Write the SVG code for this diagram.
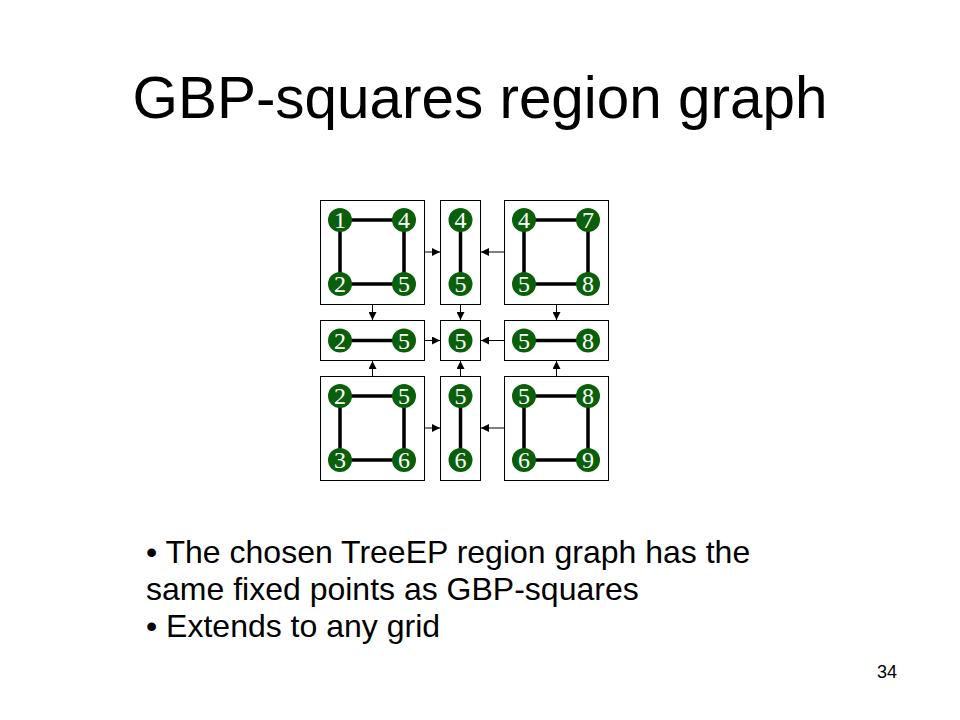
<svg xmlns="http://www.w3.org/2000/svg" width="960" height="720" viewBox="0 0 960 720">
<style>
.box{fill:#fff;stroke:#000;stroke-width:1}
.edge{stroke:#000;stroke-width:3.5}
.v circle{fill:#0a600a}
.v text{fill:#fff;font-family:"Liberation Serif","Times New Roman",serif;font-size:24px;text-anchor:middle}
.con line{stroke:#000;stroke-width:1}
.t{font-family:"Liberation Sans",Arial,sans-serif;fill:#000}
</style>
<defs>
<marker id="ah" markerWidth="8" markerHeight="8" refX="8" refY="4" orient="auto" markerUnits="userSpaceOnUse">
<path d="M0,0 L8,4 L0,8 Z" fill="#000"/>
</marker>
</defs>
<rect width="960" height="720" fill="#fff"/>
<text class="t" x="480" y="118" font-size="60" text-anchor="middle" textLength="695" lengthAdjust="spacingAndGlyphs">GBP-squares region graph</text>

<g id="connectors" class="con">
<line x1="424.5" y1="252" x2="440" y2="252" marker-end="url(#ah)"/>
<line x1="504.5" y1="252" x2="481" y2="252" marker-end="url(#ah)"/>
<line x1="424.5" y1="340.5" x2="440" y2="340.5" marker-end="url(#ah)"/>
<line x1="504.5" y1="340.5" x2="481" y2="340.5" marker-end="url(#ah)"/>
<line x1="424.5" y1="428" x2="440" y2="428" marker-end="url(#ah)"/>
<line x1="504.5" y1="428" x2="481" y2="428" marker-end="url(#ah)"/>
<line x1="372.5" y1="304.5" x2="372.5" y2="320" marker-end="url(#ah)"/>
<line x1="460.5" y1="304.5" x2="460.5" y2="320" marker-end="url(#ah)"/>
<line x1="556.5" y1="304.5" x2="556.5" y2="320" marker-end="url(#ah)"/>
<line x1="372.5" y1="376.5" x2="372.5" y2="361" marker-end="url(#ah)"/>
<line x1="460.5" y1="376.5" x2="460.5" y2="361" marker-end="url(#ah)"/>
<line x1="556.5" y1="376.5" x2="556.5" y2="361" marker-end="url(#ah)"/>
</g>

<g id="r1245">
<rect class="box" x="320.5" y="200.5" width="104" height="104"/>
<path class="edge" d="M340,220H404V284H340Z" fill="none"/>
<g class="v">
<circle cx="340" cy="220" r="12"/><text x="340" y="228">1</text>
<circle cx="404" cy="220" r="12"/><text x="404" y="228">4</text>
<circle cx="340" cy="284" r="12"/><text x="340" y="292">2</text>
<circle cx="404" cy="284" r="12"/><text x="404" y="292">5</text>
</g>
</g>
<g id="r45">
<rect class="box" x="440.5" y="200.5" width="40" height="104"/>
<path class="edge" d="M460.5,220V284"/>
<g class="v">
<circle cx="460.5" cy="220" r="12"/><text x="460.5" y="228">4</text>
<circle cx="460.5" cy="284" r="12"/><text x="460.5" y="292">5</text>
</g>
</g>
<g id="r4578">
<rect class="box" x="504.5" y="200.5" width="104" height="104"/>
<path class="edge" d="M524,220H588V284H524Z" fill="none"/>
<g class="v">
<circle cx="524" cy="220" r="12"/><text x="524" y="228">4</text>
<circle cx="588" cy="220" r="12"/><text x="588" y="228">7</text>
<circle cx="524" cy="284" r="12"/><text x="524" y="292">5</text>
<circle cx="588" cy="284" r="12"/><text x="588" y="292">8</text>
</g>
</g>

<g id="r25">
<rect class="box" x="320.5" y="320.5" width="104" height="40"/>
<path class="edge" d="M340,340.5H404"/>
<g class="v">
<circle cx="340" cy="340.5" r="12"/><text x="340" y="348.5">2</text>
<circle cx="404" cy="340.5" r="12"/><text x="404" y="348.5">5</text>
</g>
</g>
<g id="r5">
<rect class="box" x="440.5" y="320.5" width="40" height="40"/>
<g class="v">
<circle cx="460.5" cy="340.5" r="12"/><text x="460.5" y="348.5">5</text>
</g>
</g>
<g id="r58">
<rect class="box" x="504.5" y="320.5" width="104" height="40"/>
<path class="edge" d="M524,340.5H588"/>
<g class="v">
<circle cx="524" cy="340.5" r="12"/><text x="524" y="348.5">5</text>
<circle cx="588" cy="340.5" r="12"/><text x="588" y="348.5">8</text>
</g>
</g>

<g id="r2356">
<rect class="box" x="320.5" y="376.5" width="104" height="104"/>
<path class="edge" d="M340,396H404V460H340Z" fill="none"/>
<g class="v">
<circle cx="340" cy="396" r="12"/><text x="340" y="404">2</text>
<circle cx="404" cy="396" r="12"/><text x="404" y="404">5</text>
<circle cx="340" cy="460" r="12"/><text x="340" y="468">3</text>
<circle cx="404" cy="460" r="12"/><text x="404" y="468">6</text>
</g>
</g>
<g id="r56">
<rect class="box" x="440.5" y="376.5" width="40" height="104"/>
<path class="edge" d="M460.5,396V460"/>
<g class="v">
<circle cx="460.5" cy="396" r="12"/><text x="460.5" y="404">5</text>
<circle cx="460.5" cy="460" r="12"/><text x="460.5" y="468">6</text>
</g>
</g>
<g id="r5689">
<rect class="box" x="504.5" y="376.5" width="104" height="104"/>
<path class="edge" d="M524,396H588V460H524Z" fill="none"/>
<g class="v">
<circle cx="524" cy="396" r="12"/><text x="524" y="404">5</text>
<circle cx="588" cy="396" r="12"/><text x="588" y="404">8</text>
<circle cx="524" cy="460" r="12"/><text x="524" y="468">6</text>
<circle cx="588" cy="460" r="12"/><text x="588" y="468">9</text>
</g>
</g>

<g class="t" font-size="32">
<text x="146" y="563">• The chosen TreeEP region graph has the</text>
<text x="146" y="600">same fixed points as GBP-squares</text>
<text x="146" y="637">• Extends to any grid</text>
</g>
<text class="t" x="897" y="678" font-size="18" text-anchor="end">34</text>
</svg>
